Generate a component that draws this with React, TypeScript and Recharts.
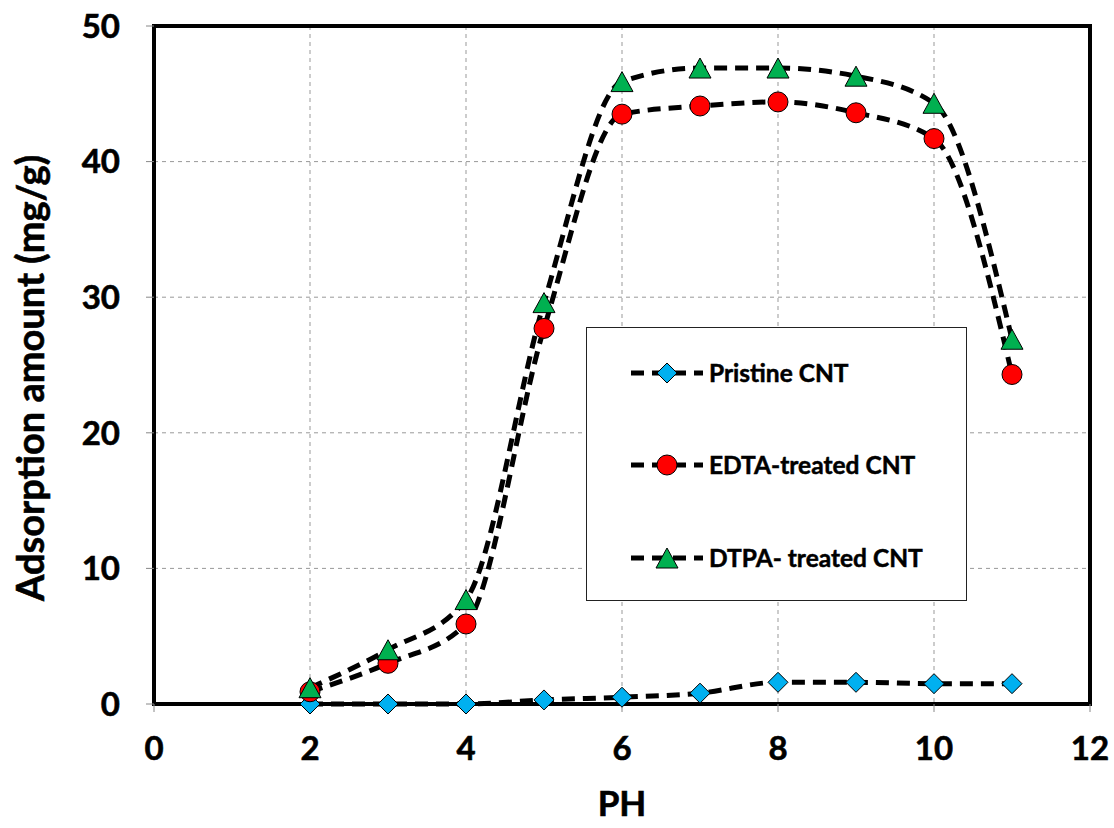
import React from 'react';
import { LineChart, Line, XAxis, YAxis, CartesianGrid, ReferenceArea } from 'recharts';

// pH values and adsorption amounts (mg/g)
const phValues = [2, 3, 4, 5, 6, 7, 8, 9, 10, 11];
const pristine = [0, 0, 0, 0.3, 0.5, 0.8, 1.6, 1.6, 1.5, 1.5];
const edta = [0.9, 3.0, 5.9, 27.7, 43.5, 44.1, 44.4, 43.6, 41.7, 24.3];
const dtpa = [1.2, 4.0, 7.7, 29.6, 45.9, 46.9, 46.9, 46.3, 44.3, 26.9];

const xTicks = [0, 2, 4, 6, 8, 10, 12];
const yTicks = [0, 10, 20, 30, 40, 50];

const FONT = 'Lato, "Open Sans", sans-serif';
const DASH = '13 8';

const data = phValues.map((ph, i) => ({
  ph,
  pristine: pristine[i],
  edta: edta[i],
  dtpa: dtpa[i],
}));

const Diamond = ({ cx, cy }: any) =>
  cx == null ? null : (
    <path
      d={`M${cx},${cy - 10}L${cx + 10},${cy}L${cx},${cy + 10}L${cx - 10},${cy}Z`}
      fill="#00B0F0"
      stroke="#000"
      strokeWidth={1}
    />
  );

const Circle = ({ cx, cy }: any) =>
  cx == null ? null : <circle cx={cx} cy={cy} r={10} fill="#FF0000" stroke="#000" strokeWidth={1} />;

const Triangle = ({ cx, cy }: any) =>
  cx == null ? null : (
    <path
      d={`M${cx},${cy - 10}L${cx + 11},${cy + 10}L${cx - 11},${cy + 10}Z`}
      fill="#00B050"
      stroke="#000"
      strokeWidth={1}
    />
  );

const series = [
  { key: 'pristine', name: 'Pristine CNT', Marker: Diamond },
  { key: 'edta', name: 'EDTA-treated CNT', Marker: Circle },
  { key: 'dtpa', name: 'DTPA- treated CNT', Marker: Triangle },
];

const legendRows = [45, 137, 230];

const LegendBox = () => (
  <div
    style={{
      position: 'absolute',
      left: 586,
      top: 327,
      width: 381,
      height: 274,
      boxSizing: 'border-box',
      border: '1.5px solid #222',
      background: '#fff',
    }}
  >
    {series.map(({ key, name, Marker }, i) => (
      <div key={key} style={{ position: 'absolute', left: 42, top: legendRows[i] - 15 }}>
        <svg width={76} height={30} style={{ position: 'absolute', left: 0, top: 0 }}>
          <line x1={2} y1={15} x2={74} y2={15} stroke="#000" strokeWidth={5} strokeDasharray={DASH} />
          <Marker cx={38} cy={15} />
        </svg>
        <span
          style={{
            position: 'absolute',
            left: 80,
            top: 0,
            lineHeight: '30px',
            whiteSpace: 'nowrap',
            fontFamily: FONT,
            fontWeight: 700,
            fontSize: 24.5,
            color: '#000',
            WebkitTextStroke: '0.5px #000',
          }}
        >
          {name}
        </span>
      </div>
    ))}
  </div>
);

// rotated y-axis title, slightly below the plot's centre like the original
const YTitle = ({ viewBox }: any) => {
  const x = 44;
  const y = viewBox.y + viewBox.height / 2 + 13;
  return (
    <text
      x={x}
      y={y}
      transform={`rotate(-90, ${x}, ${y})`}
      textAnchor="middle"
      style={{ fontFamily: FONT, fontWeight: 700, fontSize: 38, fill: '#000', stroke: '#000', strokeWidth: 0.6 }}
    >
      Adsorption amount (mg/g)
    </text>
  );
};

export default function App() {
  const tickStyle = {
    fontFamily: FONT,
    fontWeight: 700,
    fontSize: 33,
    fill: '#000',
    stroke: '#000',
    strokeWidth: 0.6,
  };
  return (
    <div style={{ position: 'absolute', left: 0, top: 0, width: 1114, height: 828, background: '#fff' }}>
      <LineChart
        width={1114}
        height={828}
        data={data}
        margin={{ top: 26, right: 24, bottom: 0, left: 0 }}
      >
        <CartesianGrid stroke="#999" strokeDasharray="4 4" />
        <XAxis
          dataKey="ph"
          type="number"
          domain={[0, 12]}
          ticks={xTicks}
          height={124}
          axisLine={false}
          tickLine={{ stroke: '#888' }}
          tickSize={8}
          tickMargin={25}
          tick={tickStyle}
          label={{
            value: 'PH',
            position: 'insideBottom',
            offset: 12,
            style: { fontFamily: FONT, fontWeight: 700, fontSize: 35, fill: '#000', stroke: '#000', strokeWidth: 0.6 },
          }}
        />
        <YAxis
          type="number"
          domain={[0, 50]}
          ticks={yTicks}
          width={154}
          axisLine={false}
          tickLine={{ stroke: '#888' }}
          tickSize={8}
          tickMargin={26}
          tick={tickStyle}
          label={{ content: (p: any) => <YTitle viewBox={p.viewBox} /> }}
        />
        {series.map(({ key, name, Marker }) => (
          <Line
            key={key}
            type="monotone"
            dataKey={key}
            name={name}
            stroke="#000"
            strokeWidth={5}
            strokeDasharray={DASH}
            dot={(p: any) => <Marker key={`${key}-${p.index}`} cx={p.cx} cy={p.cy} />}
            activeDot={false}
            isAnimationActive={false}
          />
        ))}
        <ReferenceArea x1={0} x2={12} y1={0} y2={50} fill="none" stroke="#000" strokeWidth={4} />
      </LineChart>
      <LegendBox />
    </div>
  );
}
